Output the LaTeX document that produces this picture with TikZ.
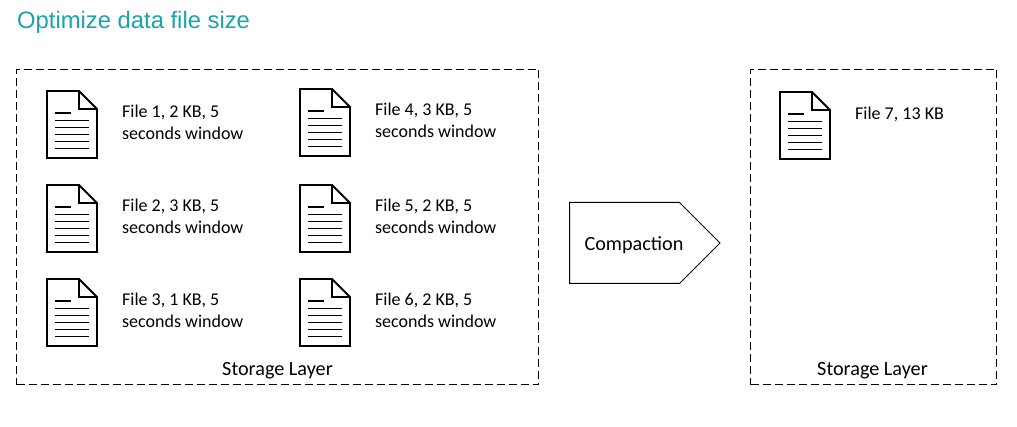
\documentclass[tikz,border=0pt]{standalone}
\usepackage{fontspec}
\setmainfont{Carlito}
\newfontfamily\titlefont{Liberation Sans}
\definecolor{titleteal}{HTML}{1AA3AE}
\tikzset{
  x=1pt,y=-1pt,
  storage/.style={draw=black,line width=1pt,dash pattern=on 8pt off 4pt},
  label/.style={font=\fontsize{18}{22}\selectfont,anchor=north west,inner sep=0pt,align=left,text=black},
  caption/.style={font=\fontsize{20.2}{24}\selectfont,inner sep=0pt,text=black},
  pics/docicon/.style={code={
    \draw[line width=1.8pt,line join=miter,fill=white] (0,0) -- (32,0) -- (50,18) -- (50,67) -- (0,67) -- cycle;
    \draw[line width=1.5pt] (32,0) -- (32,18) -- (50,18);
    \draw[line width=1.6pt] (8,22) -- (24,22);
    \draw[line width=1.7pt] (8,29.5) -- (42,29.5);
    \draw[line width=1.5pt] (8,36.5) -- (42,36.5);
    \draw[line width=1.5pt] (8,43.5) -- (42,43.5);
    \draw[line width=1.5pt] (8,50.5) -- (42,50.5);
    \draw[line width=1.5pt] (8,57.5) -- (42,57.5);
  }}
}
\begin{document}
\begin{tikzpicture}
\useasboundingbox (0,0) rectangle (1017,427);
\node[font=\titlefont\fontsize{23.8}{28}\selectfont,text=titleteal,anchor=base west,inner sep=0pt] (title) at (17,29) {Optimize data file size};
\node[storage,minimum width=522pt,minimum height=315pt,inner sep=0pt] (left) at (277.5,227) {};
\node[storage,minimum width=246pt,minimum height=315pt,inner sep=0pt] (right) at (873.5,227) {};
\pic at (47,91) {docicon};
\pic at (300,89) {docicon};
\pic at (47,185) {docicon};
\pic at (300,185) {docicon};
\pic at (47,279) {docicon};
\pic at (300,279) {docicon};
\pic at (780,92) {docicon};
\node[label] (f1) at (122,105) {File 1, 2 KB, 5\\seconds window};
\node[label] (f4) at (375,103) {File 4, 3 KB, 5\\seconds window};
\node[label] (f2) at (122,199) {File 2, 3 KB, 5\\seconds window};
\node[label] (f5) at (375,199) {File 5, 2 KB, 5\\seconds window};
\node[label] (f3) at (122,293) {File 3, 1 KB, 5\\seconds window};
\node[label] (f6) at (375,293) {File 6, 2 KB, 5\\seconds window};
\node[label] (f7) at (855,107) {File 7, 13 KB};
\node[caption] (s1) at (277.5,371) {Storage Layer};
\node[caption] (s2) at (872.5,371) {Storage Layer};
\draw[line width=1pt,fill=white] (569.5,202.5) -- (679.5,202.5) -- (720,243) -- (679.5,283.5) -- (569.5,283.5) -- cycle;
\node[caption] (comp) at (634,245) {Compaction};
\end{tikzpicture}
\end{document}
